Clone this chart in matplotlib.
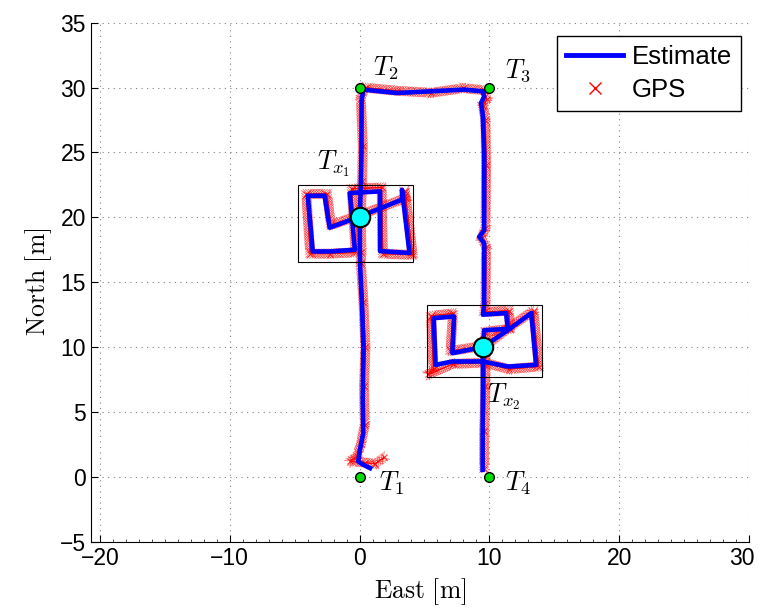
import matplotlib

matplotlib.use('Agg')
import matplotlib.pyplot as plt
from matplotlib import patheffects as pe
from matplotlib.lines import Line2D
from matplotlib.patches import Rectangle
from matplotlib.ticker import MultipleLocator
from matplotlib.transforms import ScaledTranslation

plt.rcParams['mathtext.fontset'] = 'cm'
plt.rcParams['font.family'] = ['Liberation Sans', 'DejaVu Sans']

# Estimated trajectory (East, North) in metres
est_x = [0.81, 0.29, -0.10, 0.03, 0.29, 0.25, 0.30, 0.20, 0.05, 0.03,
         0.03, -2.30, -2.69, -3.98, -3.60, -2.30, -0.36, -0.75, 1.58, 1.58,
         3.85, 3.27, 3.27, 0.03, 0.10, 0.15, 0.16, 0.29, 2.88, 5.47,
         8.05, 9.48, 9.60, 9.35, 9.48, 9.60, 9.60, 9.22, 9.60, 9.60,
         9.50, 11.29, 11.42, 9.60, 9.50, 7.15, 7.28, 5.72, 5.85, 7.15,
         9.48, 11.42, 13.60, 13.23, 11.42, 9.50, 9.50, 9.48, 9.48]
est_y = [0.67, 0.93, 1.18, 2.08, 3.37, 6.00, 10.00, 13.00, 16.20, 17.40,
         20.07, 19.20, 21.66, 21.66, 17.37, 17.37, 17.50, 21.87, 22.00, 17.40,
         17.25, 22.13, 21.36, 20.07, 22.50, 25.00, 29.00, 29.84, 29.58, 29.71,
         29.84, 29.71, 29.30, 28.80, 28.00, 25.00, 19.00, 18.50, 18.00, 13.20,
         12.50, 12.62, 11.40, 11.30, 10.00, 9.53, 12.36, 12.23, 8.63, 8.89,
         8.89, 8.50, 8.63, 12.62, 11.30, 10.00, 7.00, 3.37, 0.54]

# GPS fixes (East, North) in metres
gps_x = [1.9, 1.2, 0.4, -0.7, -0.2, 0.1, 0.4, 0.35, 0.45, 0.3,
         0.1, 0.15, 0.1, -2.2, -2.5, -4.1, -3.8, -2.3, -0.3, -0.6,
         1.7, 1.8, 4.1, 3.5, 3.6, 0.1, 0.2, 0.25, 0.1, 0.4,
         2.9, 5.5, 8.0, 9.6, 9.8, 9.5, 9.7, 9.75, 9.7, 9.4,
         9.75, 9.7, 9.6, 11.5, 11.6, 9.7, 9.6, 7.0, 7.2, 5.5,
         5.7, 5.3, 7.2, 9.6, 11.5, 13.8, 13.4, 11.5, 9.7, 9.7,
         9.6, 9.6]
gps_y = [1.5, 1.0, 1.1, 1.2, 1.6, 2.5, 4.0, 7.0, 10.0, 13.5,
         16.5, 17.3, 20.2, 19.4, 21.8, 21.8, 17.2, 17.2, 17.3, 22.2,
         22.3, 17.2, 17.1, 22.0, 21.5, 20.2, 22.8, 25.5, 29.2, 30.0,
         29.75, 29.6, 29.95, 29.8, 29.1, 28.6, 27.5, 24.0, 19.2, 18.4,
         17.7, 13.4, 12.7, 12.8, 11.4, 11.2, 10.1, 9.7, 12.6, 12.4,
         8.3, 7.9, 8.7, 8.8, 8.3, 8.5, 12.8, 11.5, 10.1, 7.0,
         3.5, 0.6]

# waypoints T1..T4 and transmitters Tx1, Tx2
wp_x = [0, 0, 10, 10]
wp_y = [0, 30, 30, 0]
wp_names = ['$T_1$', '$T_2$', '$T_3$', '$T_4$']
tx_x = [0.0, 9.5]
tx_y = [20.0, 10.0]
tx_names = ['$T_{x_1}$', '$T_{x_2}$']
# boxes around the search areas: (x0, y0, x1, y1)
boxes = [(-4.77, 16.58, 4.15, 22.51), (5.18, 7.73, 14.05, 13.21)]

fig = plt.figure(figsize=(7.58, 6.13), dpi=100)
ax = fig.add_axes([0.1197, 0.1163, 0.8685, 0.8467])

ticks = [pe.withTickedStroke(angle=a, spacing=1.8, length=2.6, linewidth=0.6)
         for a in (45, 135, -45, -135)]
ax.plot(gps_x, gps_y, color='red', lw=0.6, alpha=0.6, path_effects=ticks, zorder=2)
ax.plot(gps_x, gps_y, 'x', color='red', ms=5, mew=0.8, alpha=0.8, zorder=2)
ax.plot(est_x, est_y, color='blue', lw=3.3, solid_joinstyle='round', zorder=3)

for (x0, y0, x1, y1) in boxes:
    ax.add_patch(Rectangle((x0, y0), x1 - x0, y1 - y0, fill=False,
                           edgecolor='black', lw=0.8, zorder=4))

ax.plot(wp_x, wp_y, 'o', ls='none', color='#00dd00', mec='black', mew=1, ms=7, zorder=5)
ax.plot(tx_x, tx_y, 'o', ls='none', color='cyan', mec='black', mew=1.5, ms=14, zorder=5)

wp_off = [(1.5, -0.5), (1.0, 1.5), (1.2, 1.3), (1.2, -0.5)]
for x, y, name, (dx, dy) in zip(wp_x, wp_y, wp_names, wp_off):
    ax.text(x + dx, y + dy, name, fontsize=19, va='center', ha='left')
ax.text(tx_x[0] - 2.0, tx_y[0] + 4.1, tx_names[0], fontsize=19, va='center', ha='center')
ax.text(tx_x[1] + 1.6, tx_y[1] - 3.8, tx_names[1], fontsize=19, va='center', ha='center')

ax.set_xlim(-20.7, 30)
ax.set_ylim(-5, 35)
ax.set_xticks([-20, -10, 0, 10, 20, 30])
ax.set_yticks(range(-5, 36, 5))
ax.xaxis.set_minor_locator(MultipleLocator(1))
ax.tick_params(direction='in', labelsize=16.5, length=5, width=0.8)
ax.tick_params(which='minor', direction='in', length=2, width=0.5)
ax.tick_params(axis='y', which='minor', left=False)
for s in ('top', 'right'):
    ax.spines[s].set_visible(False)
ax.grid(True, linestyle=(0, (1, 4)), color='gray', lw=0.8)
ax.set_axisbelow(True)

# the last x label sits a little left of its tick so it stays inside the figure
last = ax.xaxis.get_major_ticks()[-1].label1
last.set_transform(last.get_transform() + ScaledTranslation(-0.07, 0, fig.dpi_scale_trans))

ax.set_xlabel(r'$\mathrm{East\ [m]}$', fontsize=18.5, labelpad=5)
ax.set_ylabel(r'$\mathrm{North\ [m]}$', fontsize=18.5, labelpad=4)

handles = [Line2D([], [], color='blue', lw=3.5),
           Line2D([], [], color='red', marker='x', ls='none', ms=8, mew=1)]
leg = ax.legend(handles, ['Estimate', 'GPS'], loc='upper right',
                bbox_to_anchor=(0.988, 0.974), borderaxespad=0, fontsize=18.5,
                fancybox=False, edgecolor='black', framealpha=1,
                handlelength=2.2, handletextpad=0.35, borderpad=0.35,
                labelspacing=0.35)
leg.get_frame().set_linewidth(1.0)

fig.savefig('out.png', dpi=100)
